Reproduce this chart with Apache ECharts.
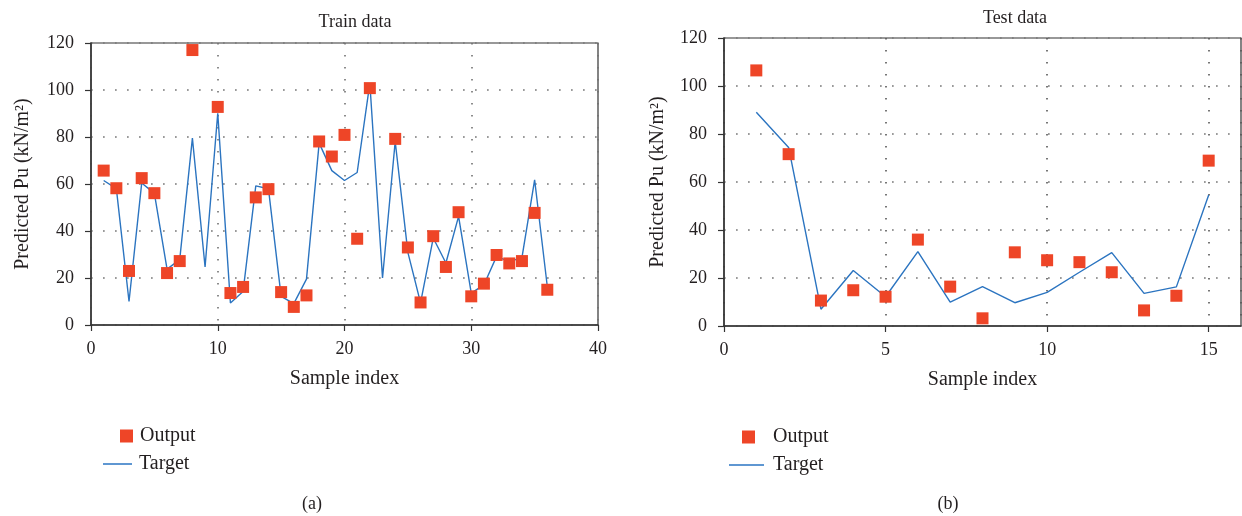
<!DOCTYPE html>
<html>
<head>
<meta charset="utf-8">
<script src="https://cdn.jsdelivr.net/npm/echarts@6/dist/echarts.min.js"></script>
<style>
html,body{margin:0;padding:0;background:#fff;}
#chart{width:1242px;height:516px;}
</style>
</head>
<body>
<div id="chart"></div>
<script>
// ---- data ----
const trainIndex = [1,2,3,4,5,6,7,8,9,10,11,12,13,14,15,16,17,18,19,20,21,22,23,24,25,26,27,28,29,30,31,32,33,34,35,36];
const trainOutput = [65.7,58.2,23.0,62.5,56.1,22.1,27.2,117.0,null,92.8,13.6,16.2,54.3,57.8,14.0,7.7,12.6,78.1,71.7,80.9,36.7,100.8,null,79.2,33.0,9.6,37.8,24.7,48.0,12.2,17.6,29.8,26.2,27.2,47.7,15.0];
const trainTarget = [61.5,58.0,10.0,60.4,56.0,23.8,27.8,79.5,24.7,90.1,9.4,14.3,59.2,58.0,12.2,9.1,19.5,77.4,65.7,61.5,64.9,102.9,20.0,78.1,30.9,9.4,37.0,26.4,46.2,13.6,17.1,29.2,27.0,28.7,61.8,16.4];

const testIndex = [1,2,3,4,5,6,7,8,9,10,11,12,13,14,15];
const testOutput = [106.5,71.6,10.6,14.9,12.2,36.0,16.4,3.2,30.7,27.4,26.6,22.4,6.5,12.6,68.9];
const testTarget = [89.1,74.4,7.0,23.1,12.2,31.0,9.9,16.4,9.7,14.0,22.4,30.6,13.6,16.3,54.6];

const yTicks = [0,20,40,60,80,100,120];
const titles = ['Train data','Test data'];
const captions = ['(a)','(b)'];
const xName = 'Sample index';
const yName = 'Predicted Pu (kN/m²)';

// ---- styling ----
const FONT = '"Liberation Serif","Times New Roman",serif';
const TXT = '#231f20';
const RED = '#ee4527';
const BLUE = '#2b74c0';
const LEGBLUE = '#5f97d2';

function pairs(xs, ys){ return xs.map((x,i)=> ys[i]==null ? [x,'-'] : [x, ys[i]]); }

function xAxis(gi, max, interval, hideMax, vColor){
  return {
    type:'value', gridIndex:gi, min:0, max:max, interval:interval,
    name:xName, nameLocation:'middle', nameGap:44,
    nameTextStyle:{fontFamily:FONT, fontSize:20, color:TXT},
    axisLine:{show:true, onZero:false, lineStyle:{color:'#333', width:1.5}},
    axisTick:{show:true, length:6, lineStyle:{color:'#333', width:1.2}},
    axisLabel:{fontFamily:FONT, fontSize:18, color:TXT, margin:15, showMaxLabel:!hideMax},
    splitLine:{show:true, lineStyle:{color:vColor, width:1.6, type:[1.6,10.4]}}
  };
}
function yAxis(gi, gap){
  return {
    type:'value', gridIndex:gi, min:0, max:120, interval:20,
    name:yName, nameLocation:'middle', nameGap:gap, nameRotate:90,
    nameTextStyle:{fontFamily:FONT, fontSize:20, color:TXT},
    axisLine:{show:true, onZero:false, lineStyle:{color:'#333', width:1.5}},
    axisTick:{show:true, length:6, lineStyle:{color:'#333', width:1.2}},
    axisLabel:{fontFamily:FONT, fontSize:18, color:TXT, margin:17},
    splitLine:{show:true, lineStyle:{color:'#7a7a7a', width:1.7, type:[1.7,10.3]}}
  };
}

const chart = echarts.init(document.getElementById('chart'), null, {renderer:'canvas'});
chart.setOption({
  animation:false,
  backgroundColor:'#fff',
  title:[
    {text:titles[0], left:350, top:8, textAlign:'center', textStyle:{fontFamily:FONT, fontSize:18, fontWeight:'normal', color:TXT}},
    {text:titles[1], left:1010, top:4, textAlign:'center', textStyle:{fontFamily:FONT, fontSize:18, fontWeight:'normal', color:TXT}},
    {text:captions[0], left:307, top:490, textAlign:'center', textStyle:{fontFamily:FONT, fontSize:18, fontWeight:'normal', color:TXT}},
    {text:captions[1], left:943, top:490, textAlign:'center', textStyle:{fontFamily:FONT, fontSize:18, fontWeight:'normal', color:TXT}}
  ],
  grid:[
    {left:91, top:43, width:507, height:282, show:true, borderColor:'#333', borderWidth:1.2, backgroundColor:'transparent'},
    {left:724, top:38, width:517, height:288, show:true, borderColor:'#333', borderWidth:1.2, backgroundColor:'transparent'}
  ],
  xAxis:[ xAxis(0, 40, 10, false, '#707070'), xAxis(1, 16, 5, true, '#555555') ],
  yAxis:[ yAxis(0, 58), yAxis(1, 56) ],
  legend:[
    {left:115, top:421, itemWidth:13, itemHeight:13, selectedMode:false, data:[{name:'Output', icon:'rect'}],
     textStyle:{fontFamily:FONT, fontSize:20, color:TXT, padding:[0,0,0,2]}},
    {left:98, top:449, itemWidth:29, itemHeight:2, selectedMode:false,
     data:[{name:'Target', icon:'rect', itemStyle:{color:LEGBLUE}}],
     textStyle:{fontFamily:FONT, fontSize:20, color:TXT, padding:[0,0,0,2]}},
    {left:737, top:422, itemWidth:13, itemHeight:13, selectedMode:false, data:[{name:'Output', icon:'rect'}],
     textStyle:{fontFamily:FONT, fontSize:20, color:TXT, padding:[0,0,0,13]}},
    {left:724, top:450, itemWidth:35, itemHeight:2, selectedMode:false,
     data:[{name:'Target', icon:'rect', itemStyle:{color:LEGBLUE}}],
     textStyle:{fontFamily:FONT, fontSize:20, color:TXT, padding:[0,0,0,4]}}
  ],
  series:[
    {name:'Target', type:'line', xAxisIndex:0, yAxisIndex:0, data:pairs(trainIndex, trainTarget),
     symbol:'none', lineStyle:{color:BLUE, width:1.4}, itemStyle:{color:BLUE}, z:2},
    {name:'Output', type:'scatter', xAxisIndex:0, yAxisIndex:0, data:pairs(trainIndex, trainOutput),
     symbol:'rect', symbolSize:12, itemStyle:{color:RED, opacity:1}, z:3},
    {name:'Target', type:'line', xAxisIndex:1, yAxisIndex:1, data:pairs(testIndex, testTarget),
     symbol:'none', lineStyle:{color:BLUE, width:1.4}, itemStyle:{color:BLUE}, z:2},
    {name:'Output', type:'scatter', xAxisIndex:1, yAxisIndex:1, data:pairs(testIndex, testOutput),
     symbol:'rect', symbolSize:12, itemStyle:{color:RED, opacity:1}, z:3}
  ]
});
</script>
</body>
</html>
